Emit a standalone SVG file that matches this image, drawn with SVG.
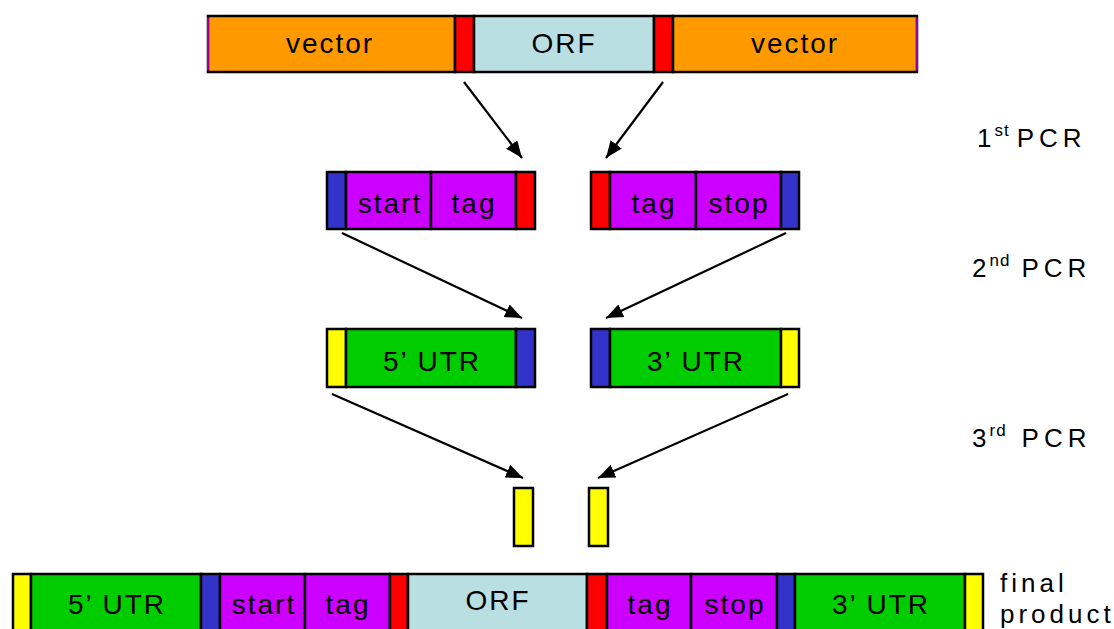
<svg xmlns="http://www.w3.org/2000/svg" width="1114" height="629" viewBox="0 0 1114 629">
<style>
rect{stroke:#000;stroke-width:2.5}
.or{fill:#FF9900}.orf{fill:#B9DFE3}.rd{fill:#FF0000}.mg{fill:#CC00FF}.bl{fill:#3333CC}.gr{fill:#00CC00}.ye{fill:#FFFF00}
text{font-family:"Liberation Sans",Arial,sans-serif;font-size:28px;letter-spacing:2px;fill:#000;text-anchor:middle}
.lab{text-anchor:start;font-size:26px;letter-spacing:3px}
.sup{font-size:17px;letter-spacing:1px}
.pcr{letter-spacing:5px}
.fp{letter-spacing:4px}
.arr{stroke:#000;stroke-width:2.2;fill:none;marker-end:url(#ah)}
</style>
<defs>
<marker id="ah" markerUnits="userSpaceOnUse" markerWidth="18" markerHeight="14" refX="17" refY="7" orient="auto">
<path d="M0,0 L17,7 L0,14 Z" fill="#000"/>
</marker>
</defs>
<rect width="1114" height="629" fill="#fff" style="stroke:none"/>

<g id="top-construct">
<rect class="or" x="208" y="16" width="247" height="56"/>
<rect class="rd" x="455" y="16" width="19" height="56"/>
<rect class="orf" x="474" y="16" width="180" height="56"/>
<rect class="rd" x="654" y="16" width="19" height="56"/>
<rect class="or" x="673" y="16" width="244" height="56"/>
<line x1="208" y1="17.5" x2="208" y2="70.5" stroke="#CC00CC" stroke-width="1.5"/>
<line x1="917" y1="17.5" x2="917" y2="70.5" stroke="#CC00CC" stroke-width="1.5"/>
<text x="330" y="53">vector</text>
<text x="564" y="53">ORF</text>
<text x="795" y="53">vector</text>
</g>

<g id="pcr1-left">
<rect class="bl" x="327" y="172" width="19" height="57"/>
<rect class="mg" x="346" y="172" width="85" height="57"/>
<rect class="mg" x="431" y="172" width="85" height="57"/>
<rect class="rd" x="516" y="172" width="19" height="57"/>
<text x="390" y="213">start</text>
<text x="474" y="213">tag</text>
</g>
<g id="pcr1-right">
<rect class="rd" x="591" y="172" width="19" height="57"/>
<rect class="mg" x="610" y="172" width="86" height="57"/>
<rect class="mg" x="696" y="172" width="85" height="57"/>
<rect class="bl" x="781" y="172" width="18" height="57"/>
<text x="654" y="213">tag</text>
<text x="739" y="213">stop</text>
</g>

<g id="pcr2-left">
<rect class="ye" x="327" y="329" width="19" height="58"/>
<rect class="gr" x="346" y="329" width="170" height="58"/>
<rect class="bl" x="516" y="329" width="19" height="58"/>
<text x="432" y="371">5’ UTR</text>
</g>
<g id="pcr2-right">
<rect class="bl" x="591" y="329" width="19" height="58"/>
<rect class="gr" x="610" y="329" width="171" height="58"/>
<rect class="ye" x="781" y="329" width="18" height="58"/>
<text x="696" y="371">3’ UTR</text>
</g>

<g id="pcr3-left">
<rect class="ye" x="514" y="488" width="19" height="58"/>
</g>
<g id="pcr3-right">
<rect class="ye" x="589" y="488" width="19" height="58"/>
</g>

<g id="final-product">
<rect class="ye" x="13" y="574" width="18" height="70"/>
<rect class="gr" x="31" y="574" width="170" height="70"/>
<rect class="bl" x="201" y="574" width="19" height="70"/>
<rect class="mg" x="220" y="574" width="85" height="70"/>
<rect class="mg" x="305" y="574" width="85" height="70"/>
<rect class="rd" x="390" y="574" width="18" height="70"/>
<rect class="orf" x="408" y="574" width="179" height="70"/>
<rect class="rd" x="587" y="574" width="20" height="70"/>
<rect class="mg" x="607" y="574" width="84" height="70"/>
<rect class="mg" x="691" y="574" width="86" height="70"/>
<rect class="bl" x="777" y="574" width="18" height="70"/>
<rect class="gr" x="795" y="574" width="170" height="70"/>
<rect class="ye" x="965" y="574" width="18" height="70"/>
<text x="117" y="614">5’ UTR</text>
<text x="264" y="614">start</text>
<text x="348" y="614">tag</text>
<text x="498" y="610">ORF</text>
<text x="650" y="614">tag</text>
<text x="735" y="614">stop</text>
<text x="881" y="614">3’ UTR</text>
</g>

<g id="labels">
<text class="lab" x="977" y="147">1<tspan class="sup" dy="-11">st</tspan><tspan class="pcr" dy="11" dx="7">PCR</tspan></text>
<text class="lab" x="972" y="277">2<tspan class="sup" dy="-11">nd</tspan><tspan class="pcr" dy="11" dx="11">PCR</tspan></text>
<text class="lab" x="972" y="447">3<tspan class="sup" dy="-11">rd</tspan><tspan class="pcr" dy="11" dx="15">PCR</tspan></text>
<text class="lab fp" x="1000" y="592">final</text>
<text class="lab fp" x="1000" y="623">product</text>
</g>

<g id="connectors">
<line class="arr" x1="464" y1="82" x2="522" y2="158"/>
<line class="arr" x1="663" y1="82" x2="606" y2="158"/>
<line class="arr" x1="342" y1="233" x2="522" y2="318"/>
<line class="arr" x1="786" y1="233" x2="606" y2="318"/>
<line class="arr" x1="332" y1="394" x2="523" y2="478"/>
<line class="arr" x1="788" y1="394" x2="598" y2="478"/>
</g>
</svg>
